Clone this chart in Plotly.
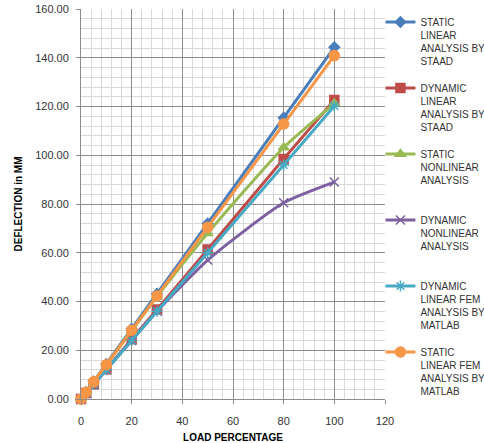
import plotly.graph_objects as go

load_pct = [0, 2, 5, 10, 20, 30, 50, 80, 100]

static_linear_staad = [0, 2.9, 7.2, 14.4, 28.8, 43.2, 72.0, 115.4, 144.3]
dynamic_linear_staad = [0, 2.45, 6.1, 12.25, 24.5, 36.7, 61.3, 98.5, 122.7]
static_nonlinear = [0, 2.8, 7.0, 14.0, 28.0, 42.0, 68.0, 103.2, 121.2]
dynamic_nonlinear = [0, 2.4, 6.0, 12.0, 24.0, 36.0, 57.0, 80.5, 89.0]
dynamic_linear_fem = [0, 2.4, 6.0, 12.0, 24.0, 36.0, 60.0, 96.0, 120.2]
static_linear_fem = [0, 2.8, 7.05, 14.1, 28.2, 42.3, 70.5, 112.8, 140.9]

series_names = [
    "STATIC<br>LINEAR<br>ANALYSIS BY<br>STAAD",
    "DYNAMIC<br>LINEAR<br>ANALYSIS BY<br>STAAD",
    "STATIC<br>NONLINEAR<br>ANALYSIS<br> ",
    "DYNAMIC<br>NONLINEAR<br>ANALYSIS<br> ",
    "DYNAMIC<br>LINEAR FEM<br>ANALYSIS BY<br>MATLAB",
    "STATIC<br>LINEAR FEM<br>ANALYSIS BY<br>MATLAB",
]
series_values = [static_linear_staad, dynamic_linear_staad, static_nonlinear,
                 dynamic_nonlinear, dynamic_linear_fem, static_linear_fem]
colors = ["#4A7EBB", "#BE4B48", "#98B954", "#7D60A0", "#46AAC5", "#F79646"]
symbols = ["diamond", "square", "triangle-up", "x-thin-open", "asterisk-open", "circle"]
sizes = [8, 9, 9, 9, 9, 10]

fig = go.Figure()
for i, (name, vals) in enumerate(zip(series_names, series_values)):
    fig.add_trace(go.Scatter(
        x=load_pct, y=vals, name=name, mode="lines+markers",
        legendgroup=f"g{i}", cliponaxis=False,
        line=dict(color=colors[i], width=3, shape="spline", smoothing=0.6),
        marker=dict(symbol=symbols[i], size=sizes[i], color=colors[i],
                    line=dict(color=colors[i], width=1.5)),
    ))

font_family = "Liberation Sans, Arial, sans-serif"
fig.update_layout(
    width=484, height=443,
    margin=dict(l=81, r=99, t=9, b=44, autoexpand=False),
    paper_bgcolor="white", plot_bgcolor="white",
    font=dict(family=font_family, size=11, color="#333333"),
    showlegend=True,
    legend=dict(x=0.985, y=1.0, xanchor="left", yanchor="top",
                valign="top", font=dict(size=10, color="#333333"),
                tracegroupgap=11, bgcolor="rgba(0,0,0,0)", maxheight=440),
    xaxis=dict(
        range=[0, 120], dtick=20, tick0=0, automargin=False,
        showgrid=True, gridcolor="#8C8C8C", gridwidth=1,
        minor=dict(dtick=4, showgrid=True, gridcolor="#D9D9D9", gridwidth=1),
        showline=True, linecolor="#8C8C8C", linewidth=1,
        ticks="outside", ticklen=4, tickcolor="#8C8C8C",
        ticklabelstandoff=8,
        zeroline=False,
        title=dict(text="<b>LOAD PERCENTAGE</b>", font=dict(size=10, color="#000000"),
                   standoff=8),
        tickfont=dict(size=11, color="#333333"),
    ),
    yaxis=dict(
        range=[0, 160], dtick=20, tick0=0, tickformat=".2f", automargin=False,
        showgrid=True, gridcolor="#8C8C8C", gridwidth=1,
        minor=dict(dtick=4, showgrid=True, gridcolor="#D9D9D9", gridwidth=1),
        showline=True, linecolor="#8C8C8C", linewidth=1,
        ticks="outside", ticklen=4, tickcolor="#8C8C8C",
        ticklabelstandoff=5,
        zeroline=False,
        title=dict(text="<b>DEFLECTION in MM</b>", font=dict(size=10, color="#000000"),
                   standoff=10),
        tickfont=dict(size=11, color="#333333"),
    ),
)

fig.write_html("out.html")
